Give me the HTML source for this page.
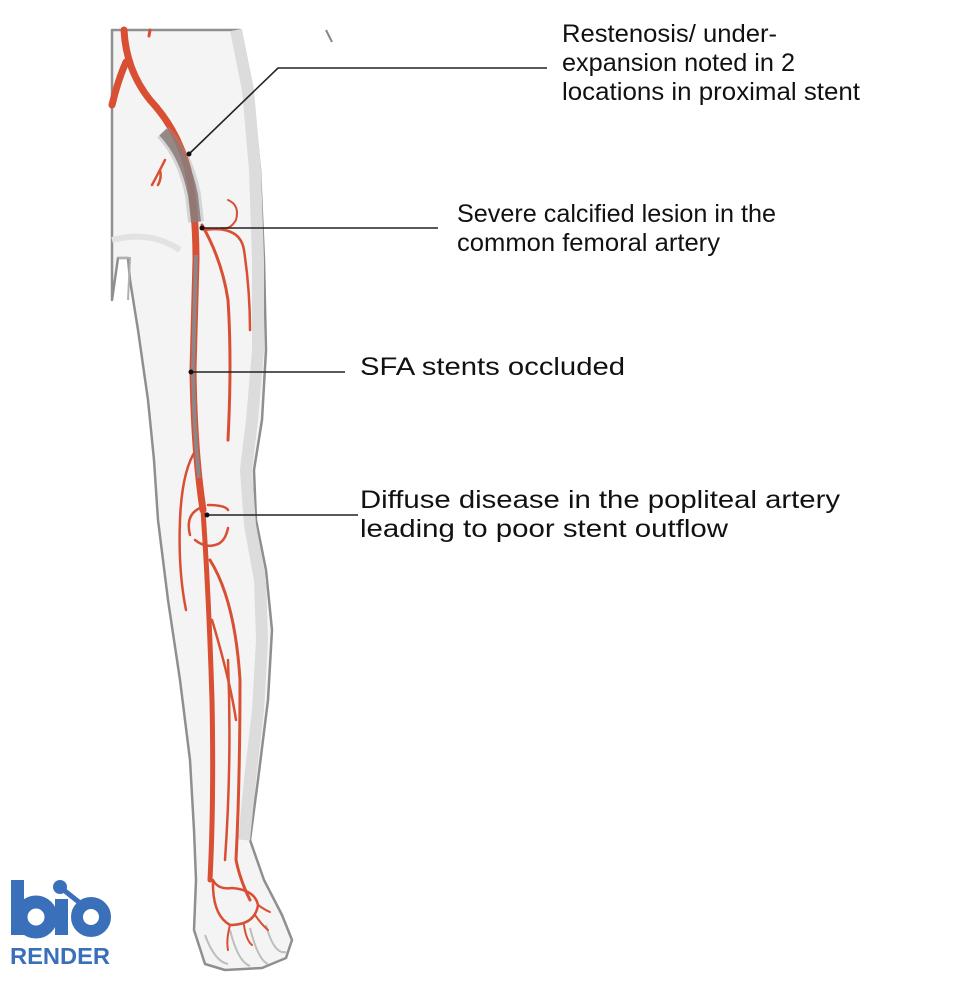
<!DOCTYPE html>
<html><head><meta charset="utf-8"><style>
html,body{margin:0;padding:0;background:#fff;}
svg{display:block;}
text{font-family:"Liberation Sans",sans-serif;fill:#111;}
</style></head><body>
<svg width="980" height="986" viewBox="0 0 980 986" xmlns="http://www.w3.org/2000/svg">
<path d="M112,30 L240,30 L252,90 L260,170 L264,260 L266,350 L262,420 L254,470 L256,520 L266,570 L272,630 L268,700 L258,780 L250,840 L264,880 L282,915 L292,940 L286,958 L262,968 L225,970 L205,964 L194,930 L196,880 L194,830 L190,760 L180,680 L168,600 L158,520 L154,460 L148,400 L138,330 L130,280 L128,258 L118,258 L112,300 Z" fill="#f4f4f4" stroke="#8f8f8f" stroke-width="2.5" stroke-linejoin="round"/>
<path d="M236,30 L248,90 L255,170 L258,260 L258,350 L252,420 L246,470 L250,525 L260,580 L262,640 L258,710 L250,780 L244,840" fill="none" stroke="#dcdcdc" stroke-width="12"/>
<path d="M112,240 Q150,230 180,250" fill="none" stroke="#e2e2e2" stroke-width="6"/>
<path d="M118,258 L130,258 L128,300" fill="none" stroke="#b0b0b0" stroke-width="2"/>
<path d="M326,30 L332,42" stroke="#888" stroke-width="2"/>
<path d="M205,935 Q215,962 228,964 M230,930 Q238,962 250,966 M250,928 Q258,960 268,964 M266,925 Q274,955 286,952" fill="none" stroke="#bdbdbd" stroke-width="2"/>
<g fill="none" stroke="#d94f33" stroke-linecap="round">
<path d="M124,30 Q126,70 150,100 Q178,130 188,170 Q196,210 196,260 L193,370 Q194,450 203,510" stroke-width="7"/>
<path d="M203,510 Q209,600 212,700 Q214,800 210,880" stroke-width="5"/>
<path d="M126,62 Q118,80 112,105" stroke-width="7"/>
<path d="M150,30 L149,36" stroke-width="3"/>
<path d="M165,160 Q160,170 152,185 M160,170 Q162,178 158,185" stroke-width="2.5"/>
<path d="M202,225 Q222,260 228,300 Q232,360 228,440" stroke-width="3"/>
<path d="M204,230 Q240,225 244,250 Q250,290 250,330" stroke-width="2.5"/>
<path d="M228,200 Q240,205 236,220 Q230,230 222,228" stroke-width="2"/>
<path d="M196,450 Q182,470 180,520 Q178,570 186,610" stroke-width="2.5"/>
<path d="M208,505 Q225,505 228,510 M200,508 Q185,515 190,535 M195,540 Q205,548 215,545 Q225,543 228,528" stroke-width="2.5"/>
<path d="M210,560 Q235,600 240,680 Q240,780 236,860 Q240,880 250,900" stroke-width="3"/>
<path d="M212,620 Q230,680 236,720" stroke-width="2.5"/>
<path d="M228,660 Q232,760 225,860" stroke-width="2.5"/>
<path d="M213,880 Q212,915 230,925 Q255,925 258,905 Q255,890 232,888 Q218,890 213,880" stroke-width="2.5"/>
<path d="M230,925 Q226,940 228,950 M244,925 Q246,940 252,945 M255,915 Q262,925 268,930 M258,905 Q265,910 270,912" stroke-width="2"/>
</g>
<path d="M163,132 Q185,155 193,195 L196,222" fill="none" stroke="#9a9a9a" stroke-width="16" opacity="0.35"/>
<path d="M163,132 Q185,155 193,195 L196,222" fill="none" stroke="#8a7a78" stroke-width="10" opacity="0.85"/>
<path d="M196,255 L193,370 Q194,430 199,478" fill="none" stroke="#8e8686" stroke-width="4"/>
<g stroke="#222" stroke-width="1.6" fill="none">
<path d="M189,154 L278,68 L547,68"/>
<path d="M202,228 L438,228"/>
<path d="M191,372 L345,372"/>
<path d="M207,515 L358,515"/>
</g>
<g fill="#111"><circle cx="189" cy="154" r="2.5"/><circle cx="202" cy="228" r="2.5"/><circle cx="191" cy="372" r="2.5"/><circle cx="207" cy="515" r="2.5"/></g>
<g font-size="25">
<text x="562" y="42" textLength="215" lengthAdjust="spacingAndGlyphs">Restenosis/ under-</text>
<text x="562" y="71" textLength="233" lengthAdjust="spacingAndGlyphs">expansion noted in 2</text>
<text x="562" y="100" textLength="298" lengthAdjust="spacingAndGlyphs">locations in proximal stent</text>
<text x="457" y="222" textLength="319" lengthAdjust="spacingAndGlyphs">Severe calcified lesion in the</text>
<text x="457" y="251" textLength="263" lengthAdjust="spacingAndGlyphs">common femoral artery</text>
<text x="360" y="375" textLength="265" lengthAdjust="spacingAndGlyphs">SFA stents occluded</text>
<text x="360" y="508" textLength="480" lengthAdjust="spacingAndGlyphs">Diffuse disease in the popliteal artery</text>
<text x="360" y="537" textLength="368" lengthAdjust="spacingAndGlyphs">leading to poor stent outflow</text>
</g>
<g fill="#3a70b9">
<rect x="11" y="880" width="13" height="55"/>
<circle cx="36" cy="917" r="15" fill="none" stroke="#3a70b9" stroke-width="13"/>
<rect x="55" y="899" width="13" height="36"/>
<circle cx="60" cy="887" r="7"/>
<circle cx="91" cy="917" r="14" fill="none" stroke="#3a70b9" stroke-width="12"/>
<path d="M60,887 L80,903" stroke="#3a70b9" stroke-width="5"/>
<text x="10" y="964" font-size="23" font-weight="bold" style="fill:#3a70b9" textLength="100" lengthAdjust="spacingAndGlyphs">RENDER</text>
</g>
</svg>
</body></html>
